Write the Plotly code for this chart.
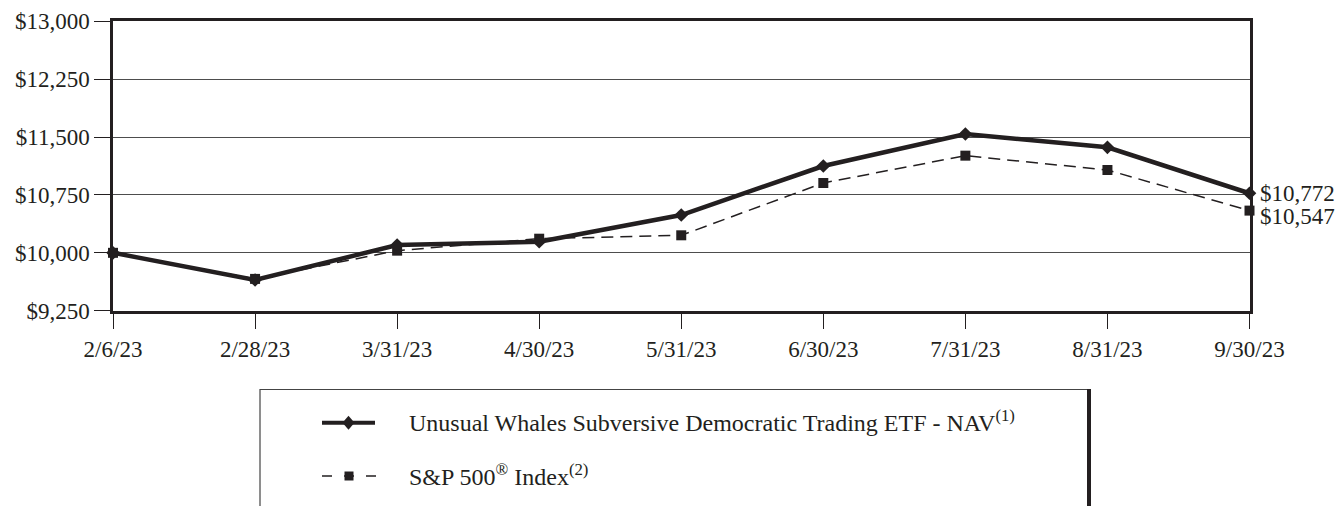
import plotly.graph_objects as go

# ---- data ----
dates = ["2/6/23", "2/28/23", "3/31/23", "4/30/23", "5/31/23",
         "6/30/23", "7/31/23", "8/31/23", "9/30/23"]
fund_values = [10000, 9648, 10101, 10144, 10490, 11125, 11540, 11367, 10772]
sp500_values = [10000, 9662, 10028, 10183, 10227, 10905, 11259, 11073, 10547]
fund_name = "Unusual Whales Subversive Democratic Trading ETF - NAV<sup>(1)</sup>"
sp500_name = "S&P 500<sup>®</sup> Index<sup>(2)</sup>"
y_min, y_max, y_step = 9250, 13000, 750

W, H = 1341, 506
INK = "#231f20"
FONT = "Liberation Serif, Times New Roman, serif"


def px(x):
    return x / W


def py(y):
    return 1 - y / H


fig = go.Figure()

fig.add_trace(go.Scatter(
    x=dates, y=sp500_values, mode="lines+markers", name="S&P 500",
    line=dict(color=INK, width=1.5, dash="12px,7px"),
    marker=dict(symbol="square", size=10, color=INK),
    cliponaxis=False, showlegend=False,
))
fig.add_trace(go.Scatter(
    x=dates, y=fund_values, mode="lines+markers", name="Fund",
    line=dict(color=INK, width=4.5),
    marker=dict(symbol="diamond", size=10.5, color=INK),
    cliponaxis=False, showlegend=False,
))

# end value labels
fig.add_annotation(x=dates[-1], y=fund_values[-1], xref="x", yref="y",
                   text=f"${fund_values[-1]:,}", showarrow=False,
                   xanchor="left", yanchor="middle", xshift=8, yshift=0,
                   font=dict(family=FONT, size=23, color=INK))
fig.add_annotation(x=dates[-1], y=sp500_values[-1], xref="x", yref="y",
                   text=f"${sp500_values[-1]:,}", showarrow=False,
                   xanchor="left", yanchor="middle", xshift=8, yshift=-6,
                   font=dict(family=FONT, size=23, color=INK))

shapes = []
# legend box
shapes.append(dict(type="rect", xref="paper", yref="paper",
                   x0=px(260), x1=px(1089), y0=py(530), y1=py(389.5),
                   line=dict(color="#444444", width=1.2), fillcolor="white", layer="below"))
shapes.append(dict(type="line", xref="paper", yref="paper",
                   x0=px(1089), x1=px(1089), y0=py(530), y1=py(389),
                   line=dict(color=INK, width=4)))
# legend samples
shapes.append(dict(type="line", xref="paper", yref="paper",
                   x0=px(322), x1=px(375), y0=py(422.7), y1=py(422.7),
                   line=dict(color=INK, width=4)))
cx, cy = 348.5, 422.7
shapes.append(dict(type="path", xref="paper", yref="paper",
                   path=f"M {px(cx-6)},{py(cy)} L {px(cx)},{py(cy-7)} L {px(cx+6)},{py(cy)} L {px(cx)},{py(cy+7)} Z",
                   line=dict(color=INK, width=0), fillcolor=INK))
shapes.append(dict(type="line", xref="paper", yref="paper",
                   x0=px(322), x1=px(376), y0=py(476), y1=py(476),
                   line=dict(color=INK, width=1.4, dash="10px,12px")))
shapes.append(dict(type="rect", xref="paper", yref="paper",
                   x0=px(344.5), x1=px(353.5), y0=py(480.5), y1=py(471.5),
                   line=dict(color=INK, width=0), fillcolor=INK))

fig.add_annotation(x=px(407), y=py(421), xref="paper", yref="paper",
                   text=fund_name, showarrow=False, xanchor="left", yanchor="middle",
                   font=dict(family=FONT, size=24, color=INK))
fig.add_annotation(x=px(407), y=py(475), xref="paper", yref="paper",
                   text=sp500_name, showarrow=False, xanchor="left", yanchor="middle",
                   font=dict(family=FONT, size=24, color=INK))

fig.update_layout(
    width=W, height=H,
    margin=dict(l=0, r=0, t=0, b=0, autoexpand=False),
    paper_bgcolor="white", plot_bgcolor="white",
    font=dict(family=FONT, size=23, color=INK),
    shapes=shapes,
    showlegend=False,
    xaxis=dict(
        domain=[px(113), px(1249.5)],
        type="category", range=[0, len(dates) - 1],
        automargin=False,
        showline=True, mirror=True, linecolor=INK, linewidth=2.5,
        ticks="outside", ticklen=16, tickwidth=1.3, tickcolor=INK,
        showgrid=False, zeroline=False,
        tickfont=dict(family=FONT, size=23, color=INK),
    ),
    yaxis=dict(
        domain=[py(310.7), py(21.3)],
        range=[y_min, y_max], tickmode="linear", tick0=y_min, dtick=y_step,
        tickprefix="$", tickformat=",d",
        automargin=False,
        showline=True, mirror=True, linecolor=INK, linewidth=2.5,
        ticks="outside", ticklen=16, tickwidth=1.3, tickcolor=INK,
        showgrid=True, gridcolor="#4d4d4d", gridwidth=1.3, zeroline=False,
        tickfont=dict(family=FONT, size=23, color=INK),
    ),
)

fig.write_html("out.html")
